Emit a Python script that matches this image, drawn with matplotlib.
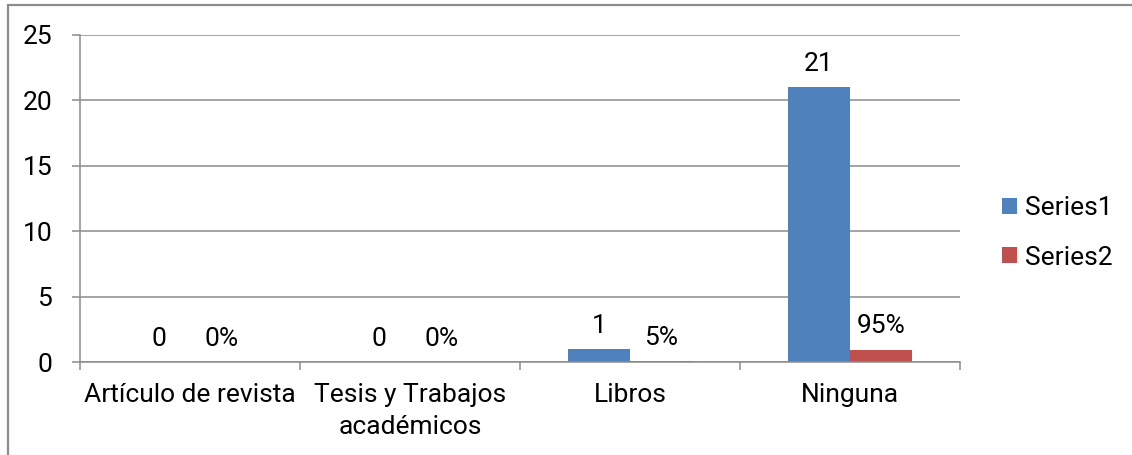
import numpy as np
import matplotlib
matplotlib.use("Agg")
import matplotlib.pyplot as plt
from matplotlib.patches import Rectangle

# datos
categorias = ["Artículo de revista", "Tesis y Trabajos\nacadémicos", "Libros", "Ninguna"]
series1 = [0, 0, 1, 21]
series2 = [0.0, 0.0, 0.05, 0.95]
etiquetas1 = ["0", "0", "1", "21"]
etiquetas2 = ["0%", "0%", "5%", "95%"]
yticks = [0, 5, 10, 15, 20, 25]

azul = "#4F81BD"
rojo = "#C0504D"
gris = "#8C8C8C"

plt.rcParams["font.family"] = ["Roboto", "DejaVu Sans"]
fs = 19

fig = plt.figure(figsize=(11.32, 4.55), dpi=100)
ax = fig.add_axes([80/1132, 1-362/455, 880/1132, 327/455])

x = np.arange(len(categorias))
w = 0.283
b1 = ax.bar(x - w/2, series1, w, color=azul, label="Series1", zorder=3)
b2 = ax.bar(x + w/2, series2, w, color=rojo, label="Series2", zorder=3)

for rect, txt in zip(b1, etiquetas1):
    ax.annotate(txt, (rect.get_x() + rect.get_width()/2, rect.get_height()),
                xytext=(0, 8), textcoords="offset points", ha="center", va="bottom", fontsize=fs)
for rect, txt in zip(b2, etiquetas2):
    ax.annotate(txt, (rect.get_x() + rect.get_width()/2, rect.get_height()),
                xytext=(0, 8), textcoords="offset points", ha="center", va="bottom", fontsize=fs)

ax.set_xlim(-0.5, len(categorias) - 0.5)
ax.set_ylim(0, 25)
ax.set_yticks(yticks)
ax.set_xticks(x)
ax.set_xticklabels(categorias, fontsize=fs, linespacing=1.45)
ax.set_xticks(np.arange(len(categorias) + 1) - 0.5, minor=True)
ax.tick_params(axis="x", which="major", length=0, pad=15)
ax.tick_params(axis="x", which="minor", length=6, width=1.1, color=gris, direction="out")
ax.tick_params(axis="y", length=6, width=1.1, color=gris, direction="out", labelsize=fs, pad=14)

ax.grid(axis="y", color=gris, lw=1.1, zorder=0)
for s in ["top", "right"]:
    ax.spines[s].set_visible(False)
for s in ["left", "bottom"]:
    ax.spines[s].set_color(gris)
    ax.spines[s].set_linewidth(1.1)
    ax.spines[s].set_zorder(4)

ax.legend(loc="center left", bbox_to_anchor=(989/1132, 1-233/455), bbox_transform=fig.transFigure,
          frameon=False, fontsize=fs, handlelength=0.55, handleheight=0.55,
          handletextpad=0.3, labelspacing=0.95, borderpad=0)

# marco exterior del grafico
fig.add_artist(Rectangle((8/1132, -0.2), 1.2, 1.2 - 5/455, transform=fig.transFigure,
                         fill=False, ec=gris, lw=1.6))

fig.savefig("out.png", dpi=100)
